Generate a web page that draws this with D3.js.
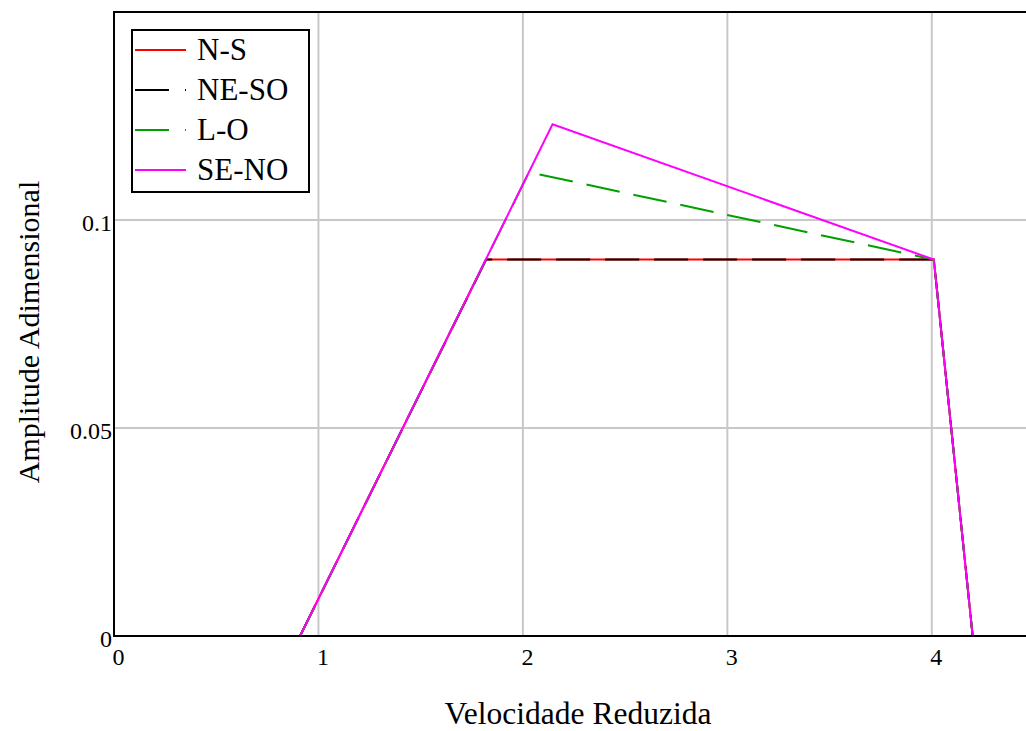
<!DOCTYPE html>
<html>
<head>
<meta charset="utf-8">
<script src="https://cdn.jsdelivr.net/npm/d3@7"></script>
<style>
    body { margin: 0; background: #fff; }
    svg { display: block; font-family: "Liberation Serif", "Times New Roman", serif; }
</style>
</head>
<body>
<svg class="main" width="1026" height="731"></svg>
<script>
// Reduced velocity (x) vs dimensionless amplitude (y), one polyline per wind direction
var velNS = [0.91, 1.82, 4.01, 4.2],
    ampNS = [0, 0.0905, 0.0905, 0];
var velNESO = [0.91, 1.82, 4.01, 4.2],
    ampNESO = [0, 0.0905, 0.0905, 0];
var velLO = [0.91, 2.03, 4.01, 4.2],
    ampLO = [0, 0.1115, 0.0905, 0];
var velSENO = [0.91, 2.145, 4.01, 4.2],
    ampSENO = [0, 0.123, 0.0905, 0];

var seriesNames = ["N-S", "NE-SO", "L-O", "SE-NO"];
var xTicks = [0, 1, 2, 3, 4],
    yTicks = [0, 0.05, 0.1],
    yTickLabels = ["0", "0.05", "0.1"];

var main = d3.select(".main"),
    margin = { left: 114, top: 12, right: 1034, bottom: 636 },
    serif = "'Liberation Serif', 'Times New Roman', serif";

var x = d3.scaleLinear().domain([0, 4.5]).range([margin.left, margin.right]),
    y = d3.scaleLinear().domain([0, 0.15]).range([margin.bottom, margin.top]);

function zipSeries(xs, ys) {
    return xs.map(function(v, i) { return { x: v, y: ys[i] }; });
}

var series = [
    { name: seriesNames[0], pts: zipSeries(velNS, ampNS), color: "#ff0000", dash: null },
    { name: seriesNames[1], pts: zipSeries(velNESO, ampNESO), color: "#000000", dash: "34,15" },
    { name: seriesNames[2], pts: zipSeries(velLO, ampLO), color: "#00a000", dash: "34,14" },
    { name: seriesNames[3], pts: zipSeries(velSENO, ampSENO), color: "#ff00ff", dash: null }
];

/**
 * Grid
 */
var grid = main.append("g");

grid.selectAll(".vgrid")
    .data(xTicks.filter(function(d) { return d > 0; }))
    .enter()
    .append("line")
    .attr("x1", function(d) { return x(d); })
    .attr("x2", function(d) { return x(d); })
    .attr("y1", y(0))
    .attr("y2", y(0.15))
    .attr("stroke", "#c8c8c8")
    .attr("stroke-width", 2);

grid.selectAll(".hgrid")
    .data(yTicks.filter(function(d) { return d > 0; }))
    .enter()
    .append("line")
    .attr("x1", x(0))
    .attr("x2", x(4.5))
    .attr("y1", function(d) { return y(d); })
    .attr("y2", function(d) { return y(d); })
    .attr("stroke", "#c8c8c8")
    .attr("stroke-width", 2);

/**
 * Series
 */
var line = d3.line()
    .x(function(d) { return x(d.x); })
    .y(function(d) { return y(d.y); });

main.append("g")
    .selectAll("path")
    .data(series)
    .enter()
    .append("path")
    .attr("d", function(d) { return line(d.pts); })
    .attr("fill", "none")
    .attr("stroke", function(d) { return d.color; })
    .attr("stroke-width", 2)
    .attr("stroke-dasharray", function(d) { return d.dash; });

/**
 * Frame and axes
 */
main.append("rect")
    .attr("x", x(0))
    .attr("y", y(0.15))
    .attr("width", x(4.5) - x(0))
    .attr("height", y(0) - y(0.15))
    .attr("fill", "none")
    .attr("stroke", "#000")
    .attr("stroke-width", 2);

var xAxis = d3.axisBottom(x)
    .tickValues(xTicks)
    .tickSize(0)
    .tickPadding(12)
    .tickFormat(d3.format("d"));

main.append("g")
    .attr("transform", "translate(4," + y(0) + ")")
    .call(xAxis)
    .call(function(g) { g.select(".domain").remove(); })
    .selectAll("text")
    .attr("font-family", serif)
    .attr("font-size", 24)
    .attr("fill", "#000");

var yAxis = d3.axisLeft(y)
    .tickValues(yTicks)
    .tickSize(0)
    .tickPadding(2)
    .tickFormat(function(d, i) { return yTickLabels[i]; });

main.append("g")
    .attr("transform", "translate(" + x(0) + ",3)")
    .call(yAxis)
    .call(function(g) { g.select(".domain").remove(); })
    .selectAll("text")
    .attr("font-family", serif)
    .attr("font-size", 24)
    .attr("fill", "#000");

main.append("text")
    .attr("x", 578)
    .attr("y", 724)
    .attr("text-anchor", "middle")
    .attr("font-size", 31.5)
    .text("Velocidade Reduzida");

main.append("text")
    .attr("transform", "translate(39,332) rotate(-90)")
    .attr("text-anchor", "middle")
    .attr("font-size", 30)
    .text("Amplitude Adimensional");

/**
 * Legend
 */
var legend = main.append("g").attr("transform", "translate(132,30)");

legend.append("rect")
    .attr("width", 177)
    .attr("height", 162)
    .attr("fill", "#fff")
    .attr("stroke", "#000")
    .attr("stroke-width", 2);

var rows = legend.selectAll(".row")
    .data(series)
    .enter()
    .append("g")
    .attr("transform", function(d, i) { return "translate(0," + (20 + i * 40) + ")"; });

rows.append("line")
    .attr("x1", 3)
    .attr("x2", 54)
    .attr("stroke", function(d) { return d.color; })
    .attr("stroke-width", 2)
    .attr("stroke-dasharray", function(d) { return d.dash ? "34,16" : null; });

rows.append("text")
    .attr("x", 65)
    .attr("y", 10)
    .attr("font-size", 31)
    .text(function(d) { return d.name; });
</script>
</body>
</html>
